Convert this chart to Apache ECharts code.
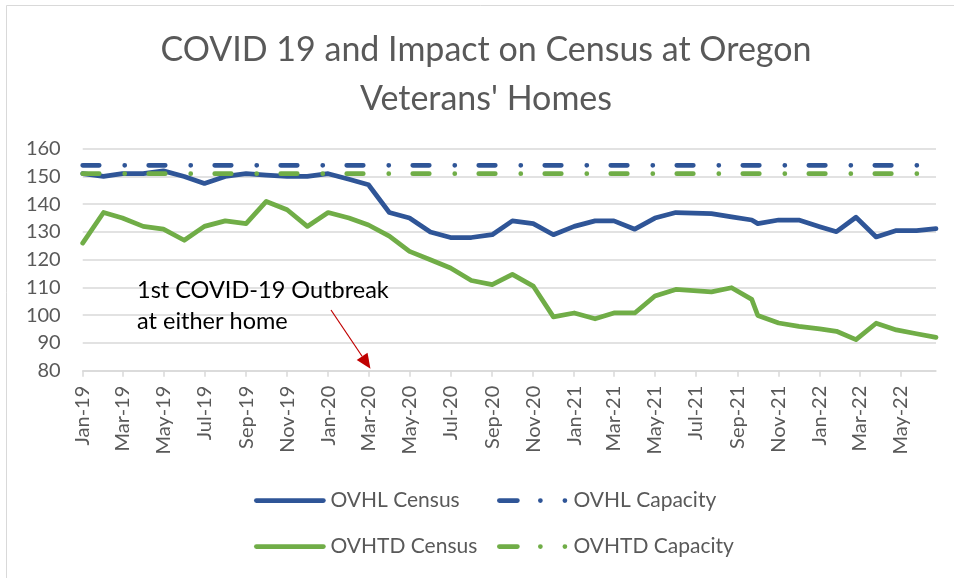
<!DOCTYPE html>
<html>
<head>
<meta charset="utf-8">
<script src="https://cdn.jsdelivr.net/npm/echarts@6/dist/echarts.min.js"></script>
<style>
  html, body { margin: 0; padding: 0; background: #fff; }
  #chart { width: 954px; height: 578px; }
</style>
</head>
<body>
<div id="chart"></div>
<script>
// data
var pointDates = [
    '2019-01-01', '2019-02-01', '2019-03-01', '2019-04-01', '2019-05-01', '2019-06-01',
    '2019-07-01', '2019-08-01', '2019-09-01', '2019-10-01', '2019-11-01', '2019-12-01',
    '2020-01-01', '2020-02-01', '2020-03-01', '2020-04-01', '2020-05-01', '2020-06-01',
    '2020-07-01', '2020-08-01', '2020-09-01', '2020-10-01', '2020-11-01', '2020-12-01',
    '2021-01-01', '2021-02-01', '2021-03-01', '2021-04-01', '2021-05-01', '2021-06-01',
    '2021-07-24', '2021-08-23', '2021-09-22', '2021-10-01', '2021-11-01', '2021-12-01',
    '2022-01-01', '2022-01-26', '2022-02-24', '2022-03-26', '2022-04-25', '2022-05-25',
    '2022-06-23'
];
var ovhlCensus = [
    151, 150, 151, 151, 152, 150, 147.5, 150, 151, 150.5, 150, 150,
    151, 149, 147, 137, 135, 130, 128, 128, 129, 134, 133, 129,
    132, 134, 134, 131, 135, 137,
    136.6, 135.4, 134.3, 133, 134.3, 134.3,
    131.9, 130.1, 135.3, 128.2, 130.5, 130.5, 131.2
];
var ovhtdCensus = [
    126, 137, 135, 132, 131, 127, 132, 134, 133, 141, 138, 132,
    137, 135, 132.5, 128.5, 123, 120, 117, 112.5, 111, 114.7, 110.5, 99.4,
    100.8, 98.7, 100.8, 100.8, 106.9, 109.3,
    108.4, 109.9, 105.7, 99.9, 97.2, 96,
    95.1, 94.2, 91.2, 97.1, 94.7, 93.3, 92
];
var ovhlCapacity = [
    154, 154, 154, 154, 154, 154, 154, 154, 154, 154, 154, 154,
    154, 154, 154, 154, 154, 154, 154, 154, 154, 154, 154, 154,
    154, 154, 154, 154, 154, 154, 154, 154, 154, 154, 154, 154,
    154, 154, 154, 154, 154, 154, 154
];
var ovhtdCapacity = [
    151, 151, 151, 151, 151, 151, 151, 151, 151, 151, 151, 151,
    151, 151, 151, 151, 151, 151, 151, 151, 151, 151, 151, 151,
    151, 151, 151, 151, 151, 151, 151, 151, 151, 151, 151, 151,
    151, 151, 151, 151, 151, 151, 151
];
var tickLabels = [
    'Jan-19', 'Mar-19', 'May-19', 'Jul-19', 'Sep-19', 'Nov-19',
    'Jan-20', 'Mar-20', 'May-20', 'Jul-20', 'Sep-20', 'Nov-20',
    'Jan-21', 'Mar-21', 'May-21', 'Jul-21', 'Sep-21', 'Nov-21',
    'Jan-22', 'Mar-22', 'May-22'
];
var outbreakDate = '2020-03-01';

var monthNames = ['Jan', 'Feb', 'Mar', 'Apr', 'May', 'Jun', 'Jul', 'Aug', 'Sep', 'Oct', 'Nov', 'Dec'];

function toTime(s) {
    var p = s.split('-');
    return new Date(+p[0], +p[1] - 1, +p[2]).getTime();
}
function labelToTime(lbl) {
    var p = lbl.split('-');
    return new Date(2000 + (+p[1]), monthNames.indexOf(p[0]), 1).getTime();
}

var tickTimes = tickLabels.map(labelToTime);
var tickMap = {};
tickTimes.forEach(function (t, i) { tickMap[t] = tickLabels[i]; });

function pairs(values) {
    return pointDates.map(function (d, i) { return [toTime(d), values[i]]; });
}

var blue = '#2F5597';
var green = '#70AD47';
var textGrey = '#595959';
var gridGrey = '#D9D9D9';
var lineW = 4.75;
var capDash = [16.5, 25.5, 0.01, 24];
var legendDash = [18, 23, 0.01, 24.5, 0.01, 200];

var legendCommon = {
    orient: 'horizontal',
    padding: 0,
    itemWidth: 67,
    itemHeight: 24,
    itemGap: 0,
    selectedMode: false,
    itemStyle: { color: 'rgba(0,0,0,0)', borderWidth: 0 },
    lineStyle: { width: lineW, cap: 'round' },
    textStyle: { fontFamily: 'Lato', fontSize: 21, color: textGrey, padding: [0, 0, 0, 2] }
};
function makeLegend(name, left, top, dashed) {
    var item = { name: name };
    if (dashed) item.lineStyle = { type: legendDash };
    return Object.assign({}, legendCommon, { left: left, top: top, data: [item] });
}

var chartDom = document.getElementById('chart');
var chart = echarts.init(chartDom);

var option = {
    animation: false,
    backgroundColor: '#fff',
    title: {
        text: 'COVID 19 and Impact on Census at Oregon\nVeterans\' Homes',
        left: 486,
        top: 26,
        padding: 0,
        textAlign: 'center',
        textStyle: {
            fontFamily: 'Lato',
            fontSize: 34,
            fontWeight: 'normal',
            color: textGrey,
            lineHeight: 48.6
        }
    },
    legend: [
        makeLegend('OVHL Census', 254, 490, false),
        makeLegend('OVHL Capacity', 497, 490, true),
        makeLegend('OVHTD Census', 254, 536, false),
        makeLegend('OVHTD Capacity', 497, 536, true)
    ],
    grid: {
        left: 82.7,
        right: 18,
        top: 148.7,
        bottom: 207.3,
        outerBoundsMode: 'none'
    },
    xAxis: {
        type: 'value',
        min: toTime(pointDates[0]),
        max: toTime(pointDates[pointDates.length - 1]),
        splitLine: { show: false },
        axisLine: { lineStyle: { color: gridGrey, width: 1.5 } },
        axisTick: {
            customValues: tickTimes,
            length: 6,
            lineStyle: { color: gridGrey, width: 1.5 }
        },
        axisLabel: {
            customValues: tickTimes,
            rotate: 90,
            margin: 15,
            fontFamily: 'Lato',
            fontSize: 20,
            color: textGrey,
            formatter: function (val) { return tickMap[val] || ''; }
        }
    },
    yAxis: {
        type: 'value',
        min: 80,
        max: 160,
        interval: 10,
        axisLine: { show: false },
        axisTick: { show: false },
        axisLabel: { fontFamily: 'Lato', fontSize: 20, color: textGrey, margin: 22 },
        splitLine: { lineStyle: { color: gridGrey, width: 1.5 } }
    },
    series: [
        {
            name: 'OVHL Census',
            type: 'line',
            data: pairs(ovhlCensus),
            symbol: 'none',
            itemStyle: { color: blue },
            lineStyle: { color: blue, width: lineW, cap: 'round', join: 'round' }
        },
        {
            name: 'OVHL Capacity',
            type: 'line',
            data: pairs(ovhlCapacity),
            symbol: 'none',
            itemStyle: { color: blue },
            lineStyle: { color: blue, width: lineW, type: capDash, cap: 'round' }
        },
        {
            name: 'OVHTD Census',
            type: 'line',
            data: pairs(ovhtdCensus),
            symbol: 'none',
            itemStyle: { color: green },
            lineStyle: { color: green, width: lineW, cap: 'round', join: 'round' }
        },
        {
            name: 'OVHTD Capacity',
            type: 'line',
            data: pairs(ovhtdCapacity),
            symbol: 'none',
            itemStyle: { color: green },
            lineStyle: { color: green, width: lineW, type: capDash, cap: 'round' }
        }
    ]
};
chart.setOption(option);

// annotation arrow points at the outbreak month on the axis
var tip = chart.convertToPixel({ gridIndex: 0 }, [toTime(outbreakDate), 80]);
tip = [tip[0] + 2, tip[1] - 2];
var start = [331, 310];
var dx = tip[0] - start[0], dy = tip[1] - start[1];
var len = Math.sqrt(dx * dx + dy * dy);
var ux = dx / len, uy = dy / len;
var headLen = 15, headHalf = 6.5;
var base = [tip[0] - ux * headLen, tip[1] - uy * headLen];

chart.setOption({
    graphic: [
        {
            type: 'rect',
            silent: true,
            shape: { x: 6.5, y: 5.5, width: 960, height: 600 },
            style: { fill: 'none', stroke: gridGrey, lineWidth: 1 }
        },
        {
            type: 'text',
            x: 137,
            y: 275,
            style: {
                text: '1st COVID-19 Outbreak\nat either home',
                fontFamily: 'Lato',
                fontSize: 23.5,
                lineHeight: 31,
                fill: '#000'
            }
        },
        {
            type: 'line',
            shape: { x1: start[0], y1: start[1], x2: base[0], y2: base[1] },
            style: { stroke: '#C00000', lineWidth: 1.2 }
        },
        {
            type: 'polygon',
            shape: {
                points: [
                    tip,
                    [base[0] - uy * headHalf, base[1] + ux * headHalf],
                    [base[0] + uy * headHalf, base[1] - ux * headHalf]
                ]
            },
            style: { fill: '#C00000' }
        }
    ]
});
</script>
</body>
</html>
